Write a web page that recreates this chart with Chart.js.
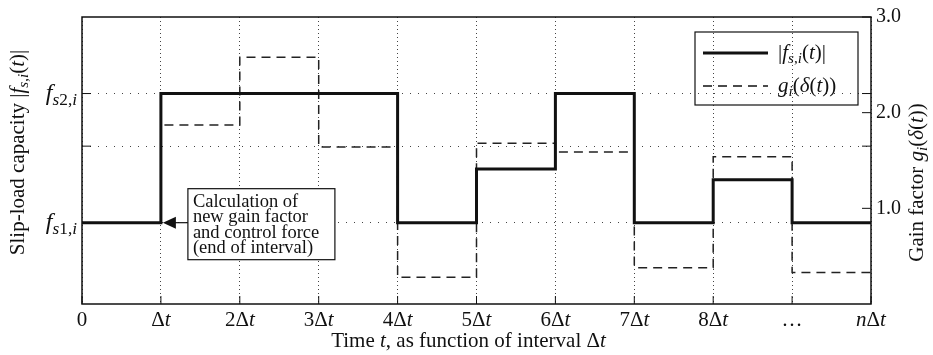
<!DOCTYPE html>
<html>
<head>
<meta charset="utf-8">
<script src="https://cdn.jsdelivr.net/npm/chart.js@4/dist/chart.umd.min.js"></script>
<style>
  html, body { margin: 0; padding: 0; background: #fff; }
  #wrap { width: 933px; height: 355px; }
</style>
</head>
<body>
<div id="wrap"><canvas id="stepChart" width="933" height="355"></canvas></div>
<script>
    // Interval boundaries (multiples of Δt) and their labels
    const timeSteps = [0, 1, 2, 3, 4, 5, 6, 7, 8, 9, 10];
    const timeLabels = ["0", "$Δt$", "$2Δt$", "$3Δt$", "$4Δt$", "$5Δt$", "$6Δt$", "$7Δt$", "$8Δt$", "$…$", "$nΔt$"];

    // Values held over each interval
    const slipLoad = [0.85, 2.2, 2.2, 2.2, 0.85, 1.41, 2.2, 0.85, 1.3, 0.85];
    const gainFactor = [0.85, 1.87, 2.58, 1.64, 0.28, 1.68, 1.59, 0.38, 1.54, 0.33];

    // Axis ticks
    const slipTicks = [0.85, 1.65, 2.2];
    const slipTickLabels = ["$f_{s1,i}$", "", "$f_{s2,i}$"];
    const gainTicks = [1, 2, 3];

    const FONT = "'Liberation Serif', 'DejaVu Serif', serif";
    const ctx = document.getElementById("stepChart").getContext("2d");

    // Split "text $math$" into runs: italic letters inside math, subscripts after _
    function parseTex(s) {
      const runs = [];
      let math = false;
      const push = (ch, sub) => {
        const italic = math && /[A-Za-z\u03b1-\u03c9]/.test(ch);
        const last = runs[runs.length - 1];
        if (last && last.italic === italic && last.sub === sub) last.t += ch;
        else runs.push({ t: ch, italic, sub });
      };
      for (let i = 0; i < s.length; i++) {
        const c = s[i];
        if (c === "$") { math = !math; continue; }
        if (math && c === "_") {
          if (s[i + 1] === "{") {
            const j = s.indexOf("}", i);
            for (const ch of s.slice(i + 2, j)) push(ch, true);
            i = j;
          } else {
            push(s[i + 1], true);
            i++;
          }
          continue;
        }
        push(c, false);
      }
      return runs;
    }

    function runFont(r, size) {
      const sz = r.sub ? size * 0.72 : size;
      return (r.italic ? "italic " : "") + sz + "px " + FONT;
    }

    function drawTex(c, str, x, y, size, align) {
      const runs = parseTex(str);
      let total = 0;
      runs.forEach(r => { c.font = runFont(r, size); r.w = c.measureText(r.t).width; total += r.w; });
      let cx = align === "center" ? x - total / 2 : align === "right" ? x - total : x;
      c.textAlign = "left";
      c.textBaseline = "middle";
      runs.forEach(r => {
        c.font = runFont(r, size);
        c.fillText(r.t, cx, y + (r.sub ? size * 0.28 : 0));
        cx += r.w;
      });
    }

    // Frame, inward ticks, custom labels, legend and annotation
    const decorations = {
      id: "decorations",
      afterDraw(chart) {
        const c = chart.ctx;
        const area = chart.chartArea;
        const xs = chart.scales.x, yl = chart.scales.y, yr = chart.scales.y2;
        c.save();
        c.fillStyle = "#111";
        c.strokeStyle = "#111";

        // inward tick marks
        c.lineWidth = 1;
        c.setLineDash([]);
        c.beginPath();
        timeSteps.forEach(v => {
          const px = xs.getPixelForValue(v);
          c.moveTo(px, area.bottom); c.lineTo(px, area.bottom - 8);
        });
        slipTicks.forEach(v => {
          const py = yl.getPixelForValue(v);
          c.moveTo(area.left, py); c.lineTo(area.left + 9, py);
          c.moveTo(area.right, py); c.lineTo(area.right - 9, py);
        });
        gainTicks.forEach(v => {
          const py = yr.getPixelForValue(v);
          c.moveTo(area.right, py); c.lineTo(area.right - 9, py);
        });
        c.stroke();

        // frame
        c.lineWidth = 1.5;
        c.strokeRect(area.left, area.top, area.right - area.left, area.bottom - area.top);

        // x tick labels and title
        timeSteps.forEach((v, i) => {
          drawTex(c, timeLabels[i], xs.getPixelForValue(v), area.bottom + 16, 21, "center");
        });
        drawTex(c, "Time $t$, as function of interval $Δt$", (area.left + area.right) / 2 - 8, area.bottom + 37, 21, "center");

        // left tick labels
        slipTicks.forEach((v, i) => {
          if (slipTickLabels[i]) drawTex(c, slipTickLabels[i], area.left - 5, yl.getPixelForValue(v), 24, "right");
        });

        // rotated axis titles
        const midY = (area.top + area.bottom) / 2;
        c.save();
        c.translate(18, midY - 8);
        c.rotate(-Math.PI / 2);
        drawTex(c, "Slip-load capacity $|f_{s,i}(t)|$", 0, 0, 21, "center");
        c.restore();
        c.save();
        c.translate(chart.width - 16, midY + 22);
        c.rotate(-Math.PI / 2);
        drawTex(c, "Gain factor $g_i(δ(t))$", 0, 0, 21, "center");
        c.restore();

        // legend
        const lx = area.right - 176, ly = area.top + 15;
        c.lineWidth = 1.2;
        c.strokeRect(lx, ly, 163, 73);
        chart.data.datasets.forEach((ds, i) => {
          const ry = ly + 21 + i * 33;
          c.lineWidth = ds.borderWidth;
          c.setLineDash(ds.borderDash || []);
          c.beginPath();
          c.moveTo(lx + 8, ry); c.lineTo(lx + 73, ry);
          c.stroke();
          c.setLineDash([]);
          drawTex(c, ds.label, lx + 83, ry, 21, "left");
        });

        // annotation box with arrow to the end of the first interval
        const tipX = xs.getPixelForValue(1) + 2;
        const tipY = yl.getPixelForValue(slipLoad[0]);
        const bx = tipX + 25, bw = 147, bh = 71, by = tipY - 34;
        c.fillStyle = "#fff";
        c.fillRect(bx, by, bw, bh);
        c.lineWidth = 1.2;
        c.strokeRect(bx, by, bw, bh);
        c.fillStyle = "#111";
        ["Calculation of", "new gain factor", "and control force", "(end of interval)"].forEach((t, i) => {
          drawTex(c, t, bx + 5, by + 13 + i * 15.5, 18.5, "left");
        });
        c.lineWidth = 1.2;
        c.beginPath();
        c.moveTo(bx, tipY); c.lineTo(tipX + 10, tipY);
        c.stroke();
        c.beginPath();
        c.moveTo(tipX, tipY); c.lineTo(tipX + 13, tipY - 6); c.lineTo(tipX + 13, tipY + 6);
        c.closePath();
        c.fill();

        c.restore();
      }
    };

    const toSteps = vals => timeSteps.map((t, i) => ({ x: t, y: vals[Math.min(i, vals.length - 1)] }));

    new Chart(ctx, {
      type: "line",
      data: {
        datasets: [
          {
            label: "$|f_{s,i}(t)|$",
            data: toSteps(slipLoad),
            yAxisID: "y",
            stepped: "before",
            borderColor: "#111",
            borderWidth: 3,
            pointRadius: 0,
            fill: false
          },
          {
            label: "$g_i(δ(t))$",
            data: toSteps(gainFactor),
            yAxisID: "y2",
            stepped: "before",
            borderColor: "#222",
            borderWidth: 1.5,
            borderDash: [9, 6],
            pointRadius: 0,
            fill: false
          }
        ]
      },
      options: {
        responsive: false,
        animation: false,
        layout: { padding: { top: 13, left: 0, right: 0, bottom: 0 } },
        plugins: { legend: { display: false }, tooltip: { enabled: false } },
        scales: {
          x: {
            type: "linear",
            min: 0,
            max: 10,
            afterBuildTicks: s => { s.ticks = timeSteps.map(v => ({ value: v })); },
            afterFit: s => { s.height = 51; },
            ticks: { display: false },
            grid: { color: "#444", lineWidth: 1, drawTicks: false },
            border: { display: false, dash: [1, 3] }
          },
          y: {
            position: "left",
            min: 0,
            max: 3,
            afterBuildTicks: s => { s.ticks = slipTicks.map(v => ({ value: v })); },
            afterFit: s => { s.width = 82; },
            ticks: { display: false },
            grid: { color: "#444", lineWidth: 1, drawTicks: false },
            border: { display: false, dash: [1, 7] }
          },
          y2: {
            position: "right",
            min: 0,
            max: 3,
            afterBuildTicks: s => { s.ticks = gainTicks.map(v => ({ value: v })); },
            afterFit: s => { s.width = 62; },
            ticks: {
              color: "#111",
              padding: 5,
              font: { family: FONT, size: 20 },
              callback: v => v.toFixed(1)
            },
            grid: { drawOnChartArea: false, drawTicks: false },
            border: { display: false }
          }
        }
      },
      plugins: [decorations]
    });
</script>
</body>
</html>
